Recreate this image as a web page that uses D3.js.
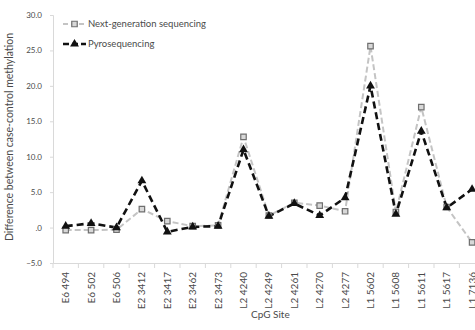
<!DOCTYPE html>
<html><head><meta charset="utf-8">
<script src="https://cdn.jsdelivr.net/npm/d3@7/dist/d3.min.js"></script>
<style>
html,body{margin:0;padding:0;background:#fff;overflow:hidden}
svg{display:block}
text{font-family:Lato,"Open Sans",sans-serif;fill:#4a4a4a}
</style></head><body>
<svg id="c" width="475" height="330"></svg>
<script>
const categories = ["E6 494","E6 502","E6 506","E2 3412","E2 3417","E2 3462","E2 3473","L2 4240","L2 4249","L2 4261","L2 4270","L2 4277","L1 5602","L1 5608","L1 5611","L1 5617","L1 7136"];
const ngs  = [-0.35,-0.35,-0.3,2.6,0.9,0.2,0.3,12.8,1.7,3.5,3.1,2.3,25.6,2.2,17.0,2.9,-2.1];
const pyro = [0.2,0.6,0.0,6.6,-0.6,0.1,0.2,11.0,1.6,3.4,1.7,4.2,20.0,1.9,13.6,2.8,5.4];
const yTicks = [-5,0,5,10,15,20,25,30];
const seriesNames = ["Next-generation sequencing","Pyrosequencing"];

const svg = d3.select("#c");
const left = 53, bandW = 25.4;
const x = d3.scaleBand().domain(categories).range([left, left + bandW*categories.length]).padding(0);
const y = d3.scaleLinear().domain([-5,30]).range([263,15]);
const fmt = v => v === 0 ? ".0" : d3.format(".1f")(v);

// Y axis
const ya = svg.append("g").attr("transform",`translate(${left},0)`)
  .call(d3.axisLeft(y).tickValues(yTicks).tickFormat(fmt).tickSize(3).tickPadding(8));
ya.select(".domain").attr("stroke","#d9d9d9");
ya.selectAll(".tick line").attr("stroke","#d9d9d9");
ya.selectAll(".tick text").style("font-size","8px").attr("fill","#555").style("font-family","Lato");

// X axis
const xa = svg.append("g").attr("transform",`translate(0,${y(-5)})`)
  .call(d3.axisBottom(x).tickSize(0).tickPadding(0));
xa.select(".domain").attr("stroke","#d9d9d9");
xa.selectAll(".tick text").style("font-size","10px").attr("fill","#555").style("font-family","Lato")
  .attr("text-anchor","end").attr("transform","rotate(-90)")
  .attr("x",-9).attr("y",0).attr("dy","0.35em");
// boundary ticks
xa.selectAll("line.bt").data(categories).enter().append("line").attr("class","bt")
  .attr("x1",d=>x(d)).attr("x2",d=>x(d)).attr("y1",0).attr("y2",5).attr("stroke","#d9d9d9");

// Titles
svg.append("text").attr("transform","translate(13,137) rotate(-90)").attr("text-anchor","middle")
  .style("font-size","10.5px").text("Difference between case-control methylation");
svg.append("text").attr("x",251).attr("y",318).style("font-size","10px").text("CpG Site");

const cx = d => x(d) + x.bandwidth()/2;
const line = d3.line().x(d=>cx(d[0])).y(d=>y(d[1]));

// NGS series
svg.append("path").datum(categories.map((c,i)=>[c,ngs[i]])).attr("d",line)
  .attr("fill","none").attr("stroke","#c4c4c4").attr("stroke-width",2).attr("stroke-dasharray","6,3");
// Pyro series
svg.append("path").datum(categories.map((c,i)=>[c,pyro[i]])).attr("d",line)
  .attr("fill","none").attr("stroke","#111").attr("stroke-width",2.6).attr("stroke-dasharray","7,4");

const sq = d3.symbol().type(d3.symbolSquare).size(30);
const tri = d3.symbol().type(d3.symbolTriangle).size(34);
svg.append("g").selectAll("path").data(categories.map((c,i)=>[c,ngs[i]])).enter().append("path")
  .attr("d",sq).attr("transform",d=>`translate(${cx(d[0])},${y(d[1])})`)
  .attr("fill","#d8d8d8").attr("stroke","#6f6f6f").attr("stroke-width",1.2);
svg.append("g").selectAll("path").data(categories.map((c,i)=>[c,pyro[i]])).enter().append("path")
  .attr("d",tri).attr("transform",d=>`translate(${cx(d[0])},${y(d[1])})`)
  .attr("fill","#111");

// Legend
const lg = svg.append("g");
const ly = [24,44];
lg.append("line").attr("x1",63).attr("x2",86).attr("y1",ly[0]).attr("y2",ly[0])
  .attr("stroke","#c4c4c4").attr("stroke-width",2).attr("stroke-dasharray","5,3");
lg.append("path").attr("d",sq).attr("transform",`translate(74.5,${ly[0]})`)
  .attr("fill","#d8d8d8").attr("stroke","#6f6f6f").attr("stroke-width",1.2);
lg.append("line").attr("x1",63).attr("x2",86).attr("y1",ly[1]).attr("y2",ly[1])
  .attr("stroke","#111").attr("stroke-width",2.6).attr("stroke-dasharray","6,3");
lg.append("path").attr("d",tri).attr("transform",`translate(74.5,${ly[1]})`).attr("fill","#111");
seriesNames.forEach((n,i)=>{
  lg.append("text").attr("x",88).attr("y",ly[i]).attr("dy","0.35em").style("font-size","9.5px").text(n);
});
</script>
</body></html>
